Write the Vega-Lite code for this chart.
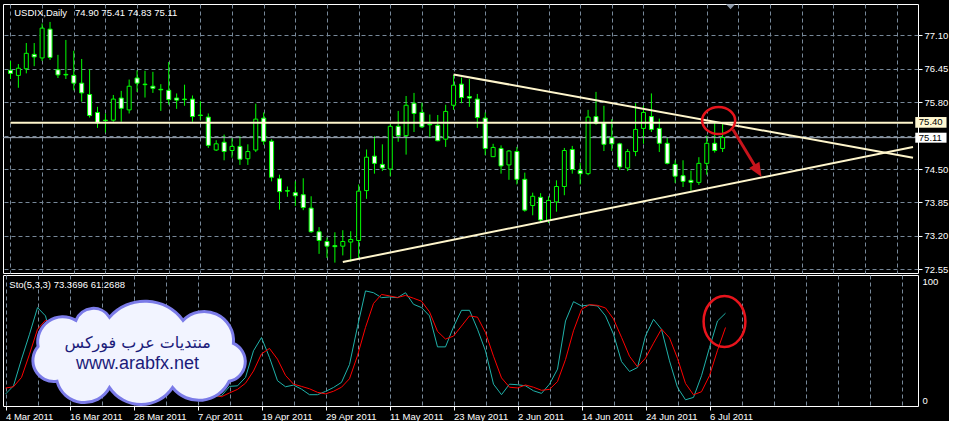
{
  "$schema": "https://vega.github.io/schema/vega-lite/v6.json",
  "background": "#000000",
  "padding": {"left": 2, "top": 3, "right": 0, "bottom": 0},
  "spacing": 2,
  "bounds": "flush",
  "config": {
    "view": {"stroke": "#FFFFFF", "strokeWidth": 1, "fill": "#000000"},
    "axis": {"labelFont": "Liberation Sans", "labelFontSize": 9.5, "labelColor": "#FFFFFF", "domain": false, "gridColor": "#778899", "gridDash": [4, 3], "gridWidth": 1, "labelOverlap": false, "labelFlush": false, "tickCount": 200},
    "text": {"font": "Liberation Sans"}
  },
  "datasets": {
    "bars": [
      {"i":0,"d":"2011-03-04","o":76.42,"h":76.60,"l":76.25,"c":76.36,"k":5.0,"dd":10.1},
      {"i":1,"d":"2011-03-07","o":76.32,"h":76.54,"l":76.08,"c":76.46,"k":12.0,"dd":11.2},
      {"i":2,"d":"2011-03-08","o":76.45,"h":76.95,"l":76.36,"c":76.75,"k":34.5,"dd":19.1},
      {"i":3,"d":"2011-03-09","o":76.73,"h":76.95,"l":76.50,"c":76.68,"k":55.6,"dd":38.7},
      {"i":4,"d":"2011-03-10","o":76.66,"h":77.33,"l":76.60,"c":77.24,"k":78.1,"dd":59.8},
      {"i":5,"d":"2011-03-11","o":77.22,"h":77.36,"l":76.62,"c":76.67,"k":71.1,"dd":67.4},
      {"i":6,"d":"2011-03-14","o":76.43,"h":76.72,"l":76.27,"c":76.33,"k":45.0,"dd":64.7},
      {"i":7,"d":"2011-03-15","o":76.34,"h":77.01,"l":76.25,"c":76.33,"k":18.0,"dd":44.7},
      {"i":8,"d":"2011-03-16","o":76.32,"h":76.80,"l":76.03,"c":76.17,"k":3.6,"dd":22.2},
      {"i":9,"d":"2011-03-17","o":76.17,"h":76.64,"l":75.81,"c":75.98,"k":2.8,"dd":8.1},
      {"i":10,"d":"2011-03-18","o":75.95,"h":76.44,"l":75.50,"c":75.54,"k":2.2,"dd":2.9},
      {"i":11,"d":"2011-03-21","o":75.60,"h":75.71,"l":75.30,"c":75.40,"k":1.7,"dd":2.2},
      {"i":12,"d":"2011-03-22","o":75.45,"h":75.58,"l":75.21,"c":75.44,"k":10.0,"dd":4.6},
      {"i":13,"d":"2011-03-23","o":75.45,"h":75.94,"l":75.42,"c":75.86,"k":30.0,"dd":13.9},
      {"i":14,"d":"2011-03-24","o":75.88,"h":76.02,"l":75.42,"c":75.68,"k":48.0,"dd":29.3},
      {"i":15,"d":"2011-03-25","o":75.65,"h":76.24,"l":75.58,"c":76.11,"k":65.0,"dd":47.7},
      {"i":16,"d":"2011-03-28","o":76.27,"h":76.42,"l":76.00,"c":76.17,"k":74.0,"dd":62.3},
      {"i":17,"d":"2011-03-29","o":76.15,"h":76.41,"l":75.89,"c":76.14,"k":81.7,"dd":73.6},
      {"i":18,"d":"2011-03-30","o":76.11,"h":76.39,"l":75.98,"c":76.07,"k":70.0,"dd":75.2},
      {"i":19,"d":"2011-03-31","o":76.05,"h":76.15,"l":75.63,"c":76.04,"k":58.0,"dd":69.9},
      {"i":20,"d":"2011-04-01","o":76.03,"h":76.58,"l":75.75,"c":75.85,"k":45.0,"dd":57.7},
      {"i":21,"d":"2011-04-04","o":75.88,"h":75.97,"l":75.67,"c":75.84,"k":35.0,"dd":46.0},
      {"i":22,"d":"2011-04-05","o":75.86,"h":76.14,"l":75.73,"c":75.85,"k":28.0,"dd":36.0},
      {"i":23,"d":"2011-04-06","o":75.86,"h":75.93,"l":75.42,"c":75.52,"k":18.0,"dd":27.0},
      {"i":24,"d":"2011-04-07","o":75.55,"h":75.82,"l":75.45,"c":75.54,"k":8.0,"dd":18.0},
      {"i":25,"d":"2011-04-08","o":75.51,"h":75.58,"l":74.91,"c":74.96,"k":1.7,"dd":9.2},
      {"i":26,"d":"2011-04-11","o":74.87,"h":75.06,"l":74.85,"c":74.99,"k":3.0,"dd":4.2},
      {"i":27,"d":"2011-04-12","o":75.02,"h":75.17,"l":74.67,"c":74.84,"k":3.6,"dd":2.8},
      {"i":28,"d":"2011-04-13","o":74.86,"h":75.10,"l":74.72,"c":74.94,"k":11.5,"dd":6.0},
      {"i":29,"d":"2011-04-14","o":74.94,"h":75.14,"l":74.58,"c":74.69,"k":12.0,"dd":9.0},
      {"i":30,"d":"2011-04-15","o":74.70,"h":74.98,"l":74.58,"c":74.84,"k":19.1,"dd":14.2},
      {"i":31,"d":"2011-04-18","o":74.87,"h":75.77,"l":74.83,"c":75.47,"k":41.6,"dd":24.5},
      {"i":32,"d":"2011-04-19","o":75.49,"h":75.60,"l":74.97,"c":75.04,"k":52.8,"dd":39.0},
      {"i":33,"d":"2011-04-20","o":75.04,"h":75.08,"l":74.26,"c":74.34,"k":35.9,"dd":43.6},
      {"i":34,"d":"2011-04-21","o":74.31,"h":74.39,"l":73.71,"c":74.06,"k":16.3,"dd":34.5},
      {"i":35,"d":"2011-04-22","o":74.08,"h":74.16,"l":73.96,"c":74.07,"k":11.2,"dd":20.8},
      {"i":36,"d":"2011-04-25","o":74.04,"h":74.26,"l":73.78,"c":73.98,"k":12.6,"dd":13.4},
      {"i":37,"d":"2011-04-26","o":74.00,"h":74.32,"l":73.70,"c":73.75,"k":9.2,"dd":11.5},
      {"i":38,"d":"2011-04-27","o":73.74,"h":73.97,"l":73.26,"c":73.28,"k":4.5,"dd":9.5},
      {"i":39,"d":"2011-04-28","o":73.28,"h":73.37,"l":72.85,"c":73.11,"k":4.5,"dd":6.5},
      {"i":40,"d":"2011-04-29","o":73.09,"h":73.17,"l":72.77,"c":73.00,"k":7.3,"dd":5.2},
      {"i":41,"d":"2011-05-02","o":73.01,"h":73.27,"l":72.68,"c":72.99,"k":10.6,"dd":7.4},
      {"i":42,"d":"2011-05-03","o":73.00,"h":73.31,"l":72.82,"c":73.09,"k":14.9,"dd":10.8},
      {"i":43,"d":"2011-05-04","o":73.08,"h":73.29,"l":72.70,"c":73.13,"k":30.0,"dd":18.0},
      {"i":44,"d":"2011-05-05","o":73.11,"h":74.20,"l":72.77,"c":74.07,"k":62.0,"dd":37.5},
      {"i":45,"d":"2011-05-06","o":74.08,"h":74.88,"l":73.92,"c":74.73,"k":92.2,"dd":61.4},
      {"i":46,"d":"2011-05-09","o":74.75,"h":75.14,"l":74.41,"c":74.61,"k":90.7,"dd":81.6},
      {"i":47,"d":"2011-05-10","o":74.59,"h":74.98,"l":74.46,"c":74.52,"k":86.5,"dd":89.2},
      {"i":48,"d":"2011-05-11","o":74.50,"h":75.37,"l":74.36,"c":75.33,"k":87.1,"dd":88.0},
      {"i":49,"d":"2011-05-12","o":75.33,"h":75.63,"l":75.03,"c":75.15,"k":86.5,"dd":86.6},
      {"i":50,"d":"2011-05-13","o":75.15,"h":75.92,"l":74.78,"c":75.74,"k":90.7,"dd":88.4},
      {"i":51,"d":"2011-05-16","o":75.78,"h":75.98,"l":75.22,"c":75.58,"k":80.9,"dd":86.0},
      {"i":52,"d":"2011-05-17","o":75.60,"h":75.79,"l":75.30,"c":75.32,"k":78.1,"dd":83.5},
      {"i":53,"d":"2011-05-18","o":75.37,"h":75.56,"l":75.10,"c":75.36,"k":71.1,"dd":74.5},
      {"i":54,"d":"2011-05-19","o":75.35,"h":75.55,"l":75.04,"c":75.05,"k":44.9,"dd":58.0},
      {"i":55,"d":"2011-05-20","o":75.08,"h":75.75,"l":74.93,"c":75.62,"k":44.9,"dd":51.5},
      {"i":56,"d":"2011-05-23","o":75.74,"h":76.33,"l":75.65,"c":76.13,"k":61.8,"dd":54.0},
      {"i":57,"d":"2011-05-24","o":76.15,"h":76.28,"l":75.78,"c":75.89,"k":75.8,"dd":62.5},
      {"i":58,"d":"2011-05-25","o":75.91,"h":76.25,"l":75.71,"c":75.88,"k":75.8,"dd":71.1},
      {"i":59,"d":"2011-05-26","o":75.86,"h":75.96,"l":75.30,"c":75.50,"k":59.8,"dd":70.0},
      {"i":60,"d":"2011-05-27","o":75.49,"h":75.60,"l":74.77,"c":74.90,"k":41.5,"dd":57.0},
      {"i":61,"d":"2011-05-30","o":74.74,"h":74.99,"l":74.74,"c":74.92,"k":13.4,"dd":37.0},
      {"i":62,"d":"2011-05-31","o":74.90,"h":74.96,"l":74.41,"c":74.56,"k":4.5,"dd":18.7},
      {"i":63,"d":"2011-06-01","o":74.58,"h":74.87,"l":74.29,"c":74.85,"k":13.4,"dd":10.8},
      {"i":64,"d":"2011-06-02","o":74.84,"h":74.93,"l":74.20,"c":74.30,"k":12.9,"dd":10.2},
      {"i":65,"d":"2011-06-03","o":74.30,"h":74.43,"l":73.67,"c":73.70,"k":12.0,"dd":12.7},
      {"i":66,"d":"2011-06-06","o":73.79,"h":74.04,"l":73.60,"c":73.97,"k":7.8,"dd":10.8},
      {"i":67,"d":"2011-06-07","o":73.95,"h":74.03,"l":73.47,"c":73.51,"k":5.6,"dd":8.2},
      {"i":68,"d":"2011-06-08","o":73.50,"h":73.97,"l":73.45,"c":73.89,"k":13.4,"dd":9.0},
      {"i":69,"d":"2011-06-09","o":73.86,"h":74.28,"l":73.67,"c":74.16,"k":26.1,"dd":15.6},
      {"i":70,"d":"2011-06-10","o":74.16,"h":74.91,"l":73.99,"c":74.86,"k":66.8,"dd":34.2},
      {"i":71,"d":"2011-06-13","o":74.88,"h":74.95,"l":74.41,"c":74.49,"k":83.1,"dd":58.5},
      {"i":72,"d":"2011-06-14","o":74.47,"h":74.62,"l":74.20,"c":74.41,"k":79.5,"dd":76.6},
      {"i":73,"d":"2011-06-15","o":74.41,"h":75.65,"l":74.38,"c":75.51,"k":80.3,"dd":80.6},
      {"i":74,"d":"2011-06-16","o":75.52,"h":76.00,"l":75.36,"c":75.39,"k":79.5,"dd":80.0},
      {"i":75,"d":"2011-06-17","o":75.40,"h":75.73,"l":74.85,"c":74.98,"k":71.1,"dd":77.8},
      {"i":76,"d":"2011-06-20","o":75.11,"h":75.47,"l":74.85,"c":74.99,"k":55.6,"dd":68.5},
      {"i":77,"d":"2011-06-21","o":74.99,"h":75.01,"l":74.48,"c":74.54,"k":32.5,"dd":53.0},
      {"i":78,"d":"2011-06-22","o":74.52,"h":74.89,"l":74.46,"c":74.84,"k":24.1,"dd":37.0},
      {"i":79,"d":"2011-06-23","o":74.84,"h":75.78,"l":74.75,"c":75.27,"k":27.5,"dd":28.0},
      {"i":80,"d":"2011-06-24","o":75.29,"h":75.73,"l":74.99,"c":75.60,"k":54.2,"dd":35.4},
      {"i":81,"d":"2011-06-27","o":75.52,"h":75.97,"l":75.22,"c":75.27,"k":68.2,"dd":48.0},
      {"i":82,"d":"2011-06-28","o":75.29,"h":75.48,"l":74.83,"c":75.00,"k":59.8,"dd":60.0},
      {"i":83,"d":"2011-06-29","o":75.00,"h":75.12,"l":74.59,"c":74.61,"k":33.1,"dd":52.5},
      {"i":84,"d":"2011-06-30","o":74.59,"h":74.67,"l":74.23,"c":74.36,"k":10.6,"dd":35.2},
      {"i":85,"d":"2011-07-01","o":74.37,"h":74.67,"l":74.15,"c":74.26,"k":0.2,"dd":14.0},
      {"i":86,"d":"2011-07-04","o":74.28,"h":74.47,"l":74.08,"c":74.24,"k":2.2,"dd":4.4},
      {"i":87,"d":"2011-07-05","o":74.24,"h":74.73,"l":74.19,"c":74.61,"k":20.5,"dd":7.0},
      {"i":88,"d":"2011-07-06","o":74.61,"h":75.15,"l":74.39,"c":75.00,"k":44.3,"dd":20.6},
      {"i":89,"d":"2011-07-07","o":75.00,"h":75.40,"l":74.82,"c":74.86,"k":66.8,"dd":42.0},
      {"i":90,"d":"2011-07-08","o":74.90,"h":75.41,"l":74.83,"c":75.11,"k":73.37,"dd":61.27}
    ],
    "trend": [
      {"t":"down","i":56,"p":76.34},
      {"t":"down","i":114.0625,"p":74.72},
      {"t":"up","i":42,"p":72.69},
      {"t":"up","i":114.0625,"p":74.93}
    ]
  },
  "vconcat": [
    {
      "width": 915,
      "height": 269,
      "data": {"name": "bars"},
      "layer": [
        {
          "mark": {"type": "rule", "color": "#00FF00", "strokeWidth": 1},
          "encoding": {
            "x": {"field": "i", "type": "quantitative", "scale": {"domain": [-0.3125, 114.0625], "nice": false, "zero": false},
                  "axis": {"title": null, "values": [0,4,8,12,16,20,24,28,32,36,40,44,48,52,56,60,64,68,72,76,80,84,88,92,96,100,104,108,112], "tickCount": 200, "grid": true, "labels": false, "ticks": false}},
            "y": {"field": "l", "type": "quantitative", "scale": {"domain": [72.478, 77.709], "nice": false, "zero": false},
                  "axis": {"title": null, "orient": "right", "values": [72.55,73.2,73.85,74.5,75.15,75.8,76.45,77.1], "tickCount": 200, "grid": true, "labelExpr": "datum.value == 75.15 ? '' : format(datum.value, '.2f')", "tickSize": 4, "tickColor": "#FFFFFF", "labelPadding": 2, "labelBaseline": "middle"}},
            "y2": {"field": "h"}
          }
        },
        {
          "data": {"values": [{}]},
          "mark": {"type": "rule", "color": "#A4ACB8", "strokeWidth": 1},
          "encoding": {"y": {"datum": 75.11, "type": "quantitative"}}
        },
        {
          "mark": {"type": "bar", "size": 4, "stroke": "#00FF00", "strokeWidth": 1},
          "encoding": {
            "x": {"field": "i", "type": "quantitative"},
            "y": {"field": "o", "type": "quantitative"},
            "y2": {"field": "c"},
            "fill": {"condition": {"test": "datum.c > datum.o", "value": "#000000"}, "value": "#FFFFFF"}
          }
        },
        {
          "data": {"values": [{}]},
          "mark": {"type": "rule", "color": "#FFF6CC", "strokeWidth": 2},
          "encoding": {
            "x": {"datum": 0, "type": "quantitative"},
            "x2": {"datum": 114.0625},
            "y": {"datum": 75.40, "type": "quantitative"}
          }
        },
        {
          "data": {"name": "trend"},
          "mark": {"type": "line", "color": "#FFF6CC", "strokeWidth": 2, "clip": true},
          "encoding": {
            "x": {"field": "i", "type": "quantitative"},
            "y": {"field": "p", "type": "quantitative"},
            "detail": {"field": "t"}
          }
        },
        {
          "data": {"values": [{}]},
          "mark": {"type": "point", "shape": "M -1 0 A 1 0.82 0 1 1 1 0 A 1 0.82 0 1 1 -1 0 Z", "size": 1089, "filled": false, "stroke": "#E8141C", "strokeWidth": 2.5, "opacity": 1},
          "encoding": {
            "x": {"datum": 89.5, "type": "quantitative"},
            "y": {"datum": 75.443, "type": "quantitative"}
          }
        },
        {
          "data": {"values": [{}]},
          "mark": {"type": "rule", "color": "#C8141C", "strokeWidth": 3},
          "encoding": {
            "x": {"datum": 91.31, "type": "quantitative"},
            "x2": {"datum": 94.08},
            "y": {"datum": 75.27, "type": "quantitative"},
            "y2": {"datum": 74.565}
          }
        },
        {
          "data": {"values": [{}]},
          "mark": {"type": "point", "shape": "M 0 -1 L 0.85 1 L -0.85 1 Z", "size": 196, "angle": 149, "filled": true, "fill": "#C8141C", "strokeWidth": 0, "opacity": 1},
          "encoding": {
            "x": {"datum": 94.46, "type": "quantitative"},
            "y": {"datum": 74.465, "type": "quantitative"}
          }
        },
        {
          "data": {"values": [{}]},
          "mark": {"type": "point", "shape": "M -1 -0.5 L 1 -0.5 L 0 0.6 Z", "size": 81, "filled": true, "fill": "#8A96A6", "strokeWidth": 0, "opacity": 1},
          "encoding": {
            "x": {"datum": 91, "type": "quantitative"},
            "y": {"datum": 77.66, "type": "quantitative"}
          }
        },
        {
          "data": {"values": [{}]},
          "mark": {"type": "rect", "fill": "#FFF8D2"},
          "encoding": {
            "x": {"datum": 114.35, "type": "quantitative"},
            "x2": {"datum": 118.3},
            "y": {"datum": 75.511, "type": "quantitative"},
            "y2": {"datum": 75.303}
          }
        },
        {
          "data": {"values": [{}]},
          "mark": {"type": "rect", "fill": "#FFFFFF"},
          "encoding": {
            "x": {"datum": 114.35, "type": "quantitative"},
            "x2": {"datum": 118.3},
            "y": {"datum": 75.206, "type": "quantitative"},
            "y2": {"datum": 75.012}
          }
        },
        {
          "data": {"values": [{"t": "75.40", "p": 75.407}, {"t": "75.11", "p": 75.109}]},
          "mark": {"type": "text", "align": "left", "baseline": "middle", "fontSize": 9.5, "color": "#000000"},
          "encoding": {
            "x": {"datum": 114.8, "type": "quantitative"},
            "y": {"field": "p", "type": "quantitative"},
            "text": {"field": "t"}
          }
        },
        {
          "data": {"values": [{"t": "USDIX,Daily\u00a0\u00a0 74.90 75.41 74.83 75.11"}]},
          "mark": {"type": "text", "align": "left", "baseline": "alphabetic", "fontSize": 9.5, "color": "#FFFFFF"},
          "encoding": {
            "x": {"datum": 0.475, "type": "quantitative"},
            "y": {"datum": 77.475, "type": "quantitative"},
            "text": {"field": "t"}
          }
        }
      ]
    },
    {
      "width": 915,
      "height": 131,
      "data": {"name": "bars"},
      "layer": [
        {
          "mark": {"type": "line", "color": "#20B2AA", "strokeWidth": 1},
          "encoding": {
            "x": {"field": "i", "type": "quantitative", "scale": {"domain": [-0.3125, 114.0625], "nice": false, "zero": false},
                  "axis": {"title": null, "values": [0,4,8,12,16,20,24,28,32,36,40,44,48,52,56,60,64,68,72,76,80,84,88,92,96,100,104,108,112], "tickCount": 200, "grid": true,
                           "labelExpr": "datum.value % 8 == 0 && datum.value <= 88 ? ['4 Mar 2011','16 Mar 2011','28 Mar 2011','7 Apr 2011','19 Apr 2011','29 Apr 2011','11 May 2011','23 May 2011','2 Jun 2011','14 Jun 2011','24 Jun 2011','6 Jul 2011'][datum.value / 8] : ''",
                           "labelAlign": "left", "labelBaseline": "top", "labelDx": -1, "labelPadding": 1, "tickSize": 4,
                           "tickColor": {"condition": {"test": "datum.value % 8 == 0 && datum.value <= 88", "value": "#FFFFFF"}, "value": "transparent"}}},
            "y": {"field": "k", "type": "quantitative", "scale": {"domain": [-5.06, 105.65], "nice": false, "zero": false},
                  "axis": {"title": null, "orient": "right", "values": [0, 100], "format": "d", "grid": false, "ticks": false, "labelPadding": 4, "labelBaseline": "middle"}}
          }
        },
        {
          "mark": {"type": "line", "color": "#FF0000", "strokeWidth": 1},
          "encoding": {
            "x": {"field": "i", "type": "quantitative"},
            "y": {"field": "dd", "type": "quantitative"}
          }
        },
        {
          "data": {"values": [{}]},
          "mark": {"type": "point", "shape": "M -0.98 -0.05 A 0.24 0.24 0 0 1 -0.62 -0.30 A 0.18 0.18 0 0 1 -0.30 -0.33 A 0.45 0.45 0 0 1 0.40 -0.30 A 0.28 0.28 0 0 1 0.88 -0.08 A 0.19 0.19 0 0 1 0.84 0.28 A 0.32 0.32 0 0 1 0.30 0.34 A 0.36 0.36 0 0 1 -0.30 0.34 A 0.27 0.27 0 0 1 -0.80 0.28 A 0.20 0.20 0 0 1 -0.98 -0.05 Z", "size": 44100, "filled": true, "fill": "#F2F4FF", "stroke": "#7B7BE8", "strokeWidth": 3, "opacity": 1},
          "encoding": {
            "x": {"datum": 16.94, "type": "quantitative"},
            "y": {"datum": 40.7, "type": "quantitative"}
          }
        },
        {
          "data": {"values": [{"t": "منتديات عرب فوركس"}]},
          "mark": {"type": "text", "align": "center", "baseline": "middle", "font": "DejaVu Sans", "fontSize": 16, "color": "#1B1B7A"},
          "encoding": {
            "x": {"datum": 16.52, "type": "quantitative"},
            "y": {"datum": 48.3, "type": "quantitative"},
            "text": {"field": "t"}
          }
        },
        {
          "data": {"values": [{"t": "www.arabfx.net"}]},
          "mark": {"type": "text", "align": "center", "baseline": "middle", "font": "Liberation Sans", "fontSize": 18, "color": "#1B1B7A"},
          "encoding": {
            "x": {"datum": 16.5, "type": "quantitative"},
            "y": {"datum": 30.2, "type": "quantitative"},
            "text": {"field": "t"}
          }
        },
        {
          "data": {"values": [{}]},
          "mark": {"type": "point", "shape": "M -0.82 0 A 0.82 1 0 1 1 0.82 0 A 0.82 1 0 1 1 -0.82 0 Z", "size": 2601, "filled": false, "stroke": "#E8141C", "strokeWidth": 2.5, "opacity": 1},
          "encoding": {
            "x": {"datum": 89.875, "type": "quantitative"},
            "y": {"datum": 66.4, "type": "quantitative"}
          }
        },
        {
          "data": {"values": [{"t": "Sto(5,3,3) 73.3696 61.2688"}]},
          "mark": {"type": "text", "align": "left", "baseline": "alphabetic", "fontSize": 9.5, "color": "#FFFFFF"},
          "encoding": {
            "x": {"datum": 0.475, "type": "quantitative"},
            "y": {"datum": 94.4, "type": "quantitative"},
            "text": {"field": "t"}
          }
        }
      ]
    }
  ]
}
